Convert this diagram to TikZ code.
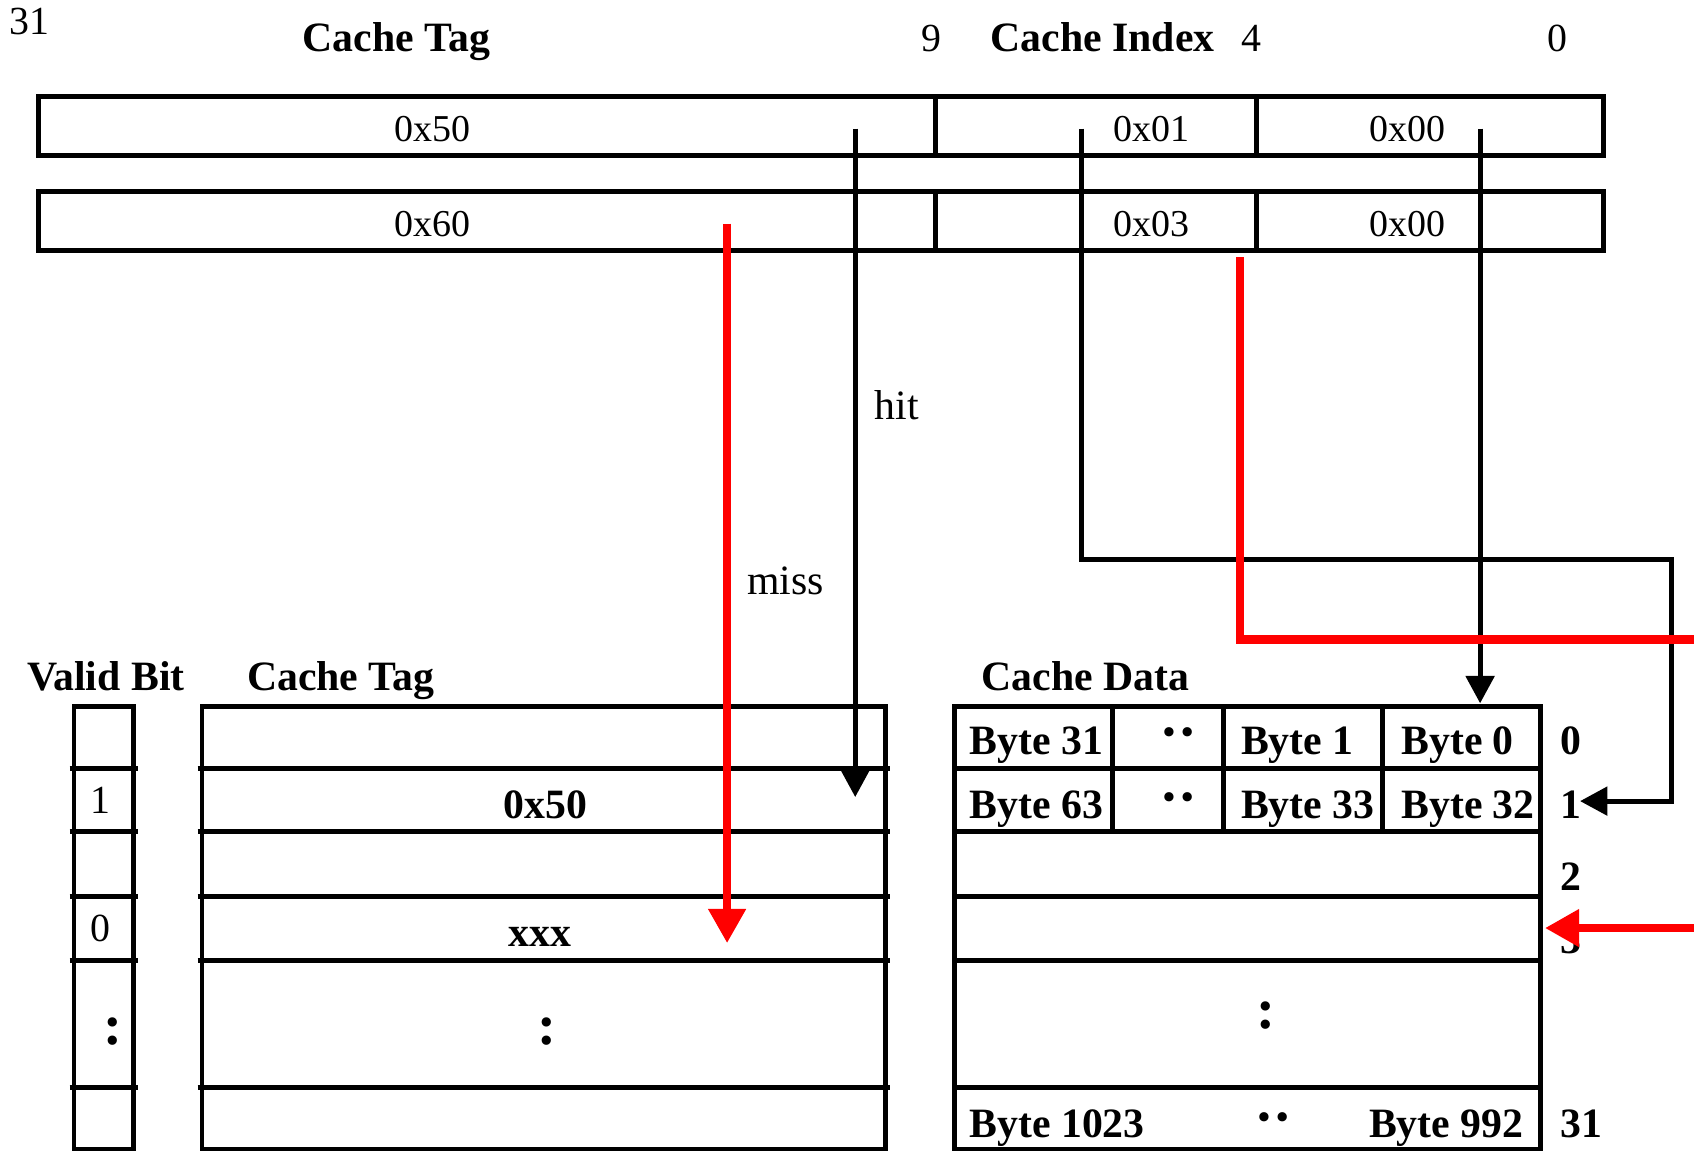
\documentclass[tikz,border=0pt]{standalone}
\usepackage{fontspec}
\setmainfont{Liberation Serif}
\usetikzlibrary{arrows.meta,positioning,calc}
\tikzset{>={Triangle[width=7.4pt,length=7.2pt]}}
\tikzset{
  grid/.style={line width=1.3pt},
  wire/.style={line width=1.3pt,->},
  redwire/.style={line width=2.2pt,red,-{Triangle[width=9.4pt,length=9pt]}},
  title/.style={font=\fontsize{11}{13}\selectfont\bfseries, anchor=base},
  bitno/.style={font=\fontsize{10.5}{12}\selectfont, anchor=base},
  hexval/.style={font=\fontsize{10}{12}\selectfont, anchor=base},
  entry/.style={font=\fontsize{11}{13}\selectfont\bfseries, anchor=base west, inner sep=0pt},
  dots/.style={font=\fontsize{15}{17}\selectfont\bfseries},
}
\begin{document}
\begin{tikzpicture}
  \useasboundingbox (0,0) rectangle (15.68,-10.65);
  \clip (0,0) rectangle (15.68,-10.65);
  % address layout
  \node[bitno] (b31) at (0.275,-0.318) {31};
  \node[title] (addrtag) at (3.67,-0.478) {Cache Tag};
  \node[bitno] (b9) at (8.62,-0.478) {9};
  \node[title] (addrindex) at (10.206,-0.478) {Cache Index};
  \node[bitno] (b4) at (11.58,-0.478) {4};
  \node[bitno] (b0) at (14.42,-0.478) {0};
  % two addresses
  \draw[grid] (0.36,-0.895) rectangle (14.84,-1.435);
  \draw[grid] (8.66,-0.895) -- (8.66,-1.435) (11.63,-0.895) -- (11.63,-1.435);
  \draw[grid] (0.36,-1.775) rectangle (14.84,-2.315);
  \draw[grid] (8.66,-1.775) -- (8.66,-2.315) (11.63,-1.775) -- (11.63,-2.315);
  \node[hexval] (tagA) at (4.00,-1.31) {0x50};
  \node[hexval] (idxA) at (10.66,-1.31) {0x01};
  \node[hexval] (offA) at (13.03,-1.31) {0x00};
  \node[hexval] (tagB) at (4.00,-2.19) {0x60};
  \node[hexval] (idxB) at (10.66,-2.19) {0x03};
  \node[hexval] (offB) at (13.03,-2.19) {0x00};

  % cache arrays
  \node[title] (validtitle) at (0.98,-6.39) {Valid Bit};
  \node[title] (tagtitle) at (3.155,-6.39) {Cache Tag};
  \node[title] (datatitle) at (10.045,-6.39) {Cache Data};
  \draw[grid] (0.685,-6.54) rectangle (1.235,-10.635);
  \draw[grid] (1.87,-6.54) rectangle (8.20,-10.635);
  \draw[grid] (8.835,-6.54) rectangle (14.26,-10.635);
  \foreach \y in {7.11,7.70,8.295,8.89,10.07} {
    \draw[grid] (0.645,-\y) -- (1.275,-\y);
    \draw[grid] (1.83,-\y) -- (8.24,-\y);
    \draw[grid] (8.835,-\y) -- (14.26,-\y);
  }
  \foreach \x in {10.295,11.326,12.80}
    \draw[grid] (\x,-6.54) -- (\x,-7.70);

  \node[bitno] (v1) at (0.93,-7.527) {1};
  \node[bitno] (v3) at (0.93,-8.716) {0};
  \node[dots, anchor=base] (vdots) at (1.05,-9.67) {:};
  \node[title] (t1) at (5.05,-7.575) {0x50};
  \node[title] (t3) at (5.00,-8.765) {xxx};
  \node[dots, anchor=base] (tdots) at (5.06,-9.67) {:};

  \node[entry] (byte31) at (8.967,-6.98) {Byte 31};
  \node[dots, rotate=90] (d0) at (10.91,-6.78) {:};
  \node[entry] (byte1) at (11.48,-6.98) {Byte 1};
  \node[entry] (byte0) at (12.964,-6.98) {Byte 0};
  \node[entry] (byte63) at (8.967,-7.575) {Byte 63};
  \node[dots, rotate=90] (d1) at (10.91,-7.374) {:};
  \node[entry] (byte33) at (11.48,-7.575) {Byte 33};
  \node[entry] (byte32) at (12.964,-7.575) {Byte 32};
  \node[dots, anchor=base] (ddots) at (11.718,-9.516) {:};
  \node[entry] (byte1023) at (8.967,-10.526) {Byte 1023};
  \node[dots, rotate=90] (dlast) at (11.79,-10.336) {:};
  \node[entry, anchor=base east] (byte992) at (14.107,-10.526) {Byte 992};

  \node[entry] (r0) at (14.44,-6.98) {0};
  \node[entry] (r1) at (14.44,-7.575) {1};
  \node[entry] (r2) at (14.44,-8.24) {2};
  \node[entry] (r3) at (14.44,-8.83) {3};
  \node[entry] (r31) at (14.44,-10.526) {31};

  % lookups
  \coordinate (hitsrc) at (7.916,-1.19);
  \coordinate (hittip) at (7.916,-7.378);
  \coordinate (idxsrc) at (10.007,-1.19);
  \coordinate (idxturn) at (15.47,-5.183);
  \coordinate (idxtip) at (14.625,-7.415);
  \coordinate (offsrc) at (13.70,-1.19);
  \coordinate (offtip) at (13.70,-6.51);
  \coordinate (misssrc) at (6.73,-2.07);
  \coordinate (misstip) at (6.73,-8.73);
  \coordinate (redsrc) at (11.477,-2.38);
  \coordinate (redturn) at (16.2,-5.92);
  \coordinate (redtip) at (14.30,-8.59);

  \draw[wire] (hitsrc) -- (hittip);
  \node[font=\fontsize{11}{13}\selectfont] (hit) at (8.30,-3.75) {hit};
  \draw[wire] (idxsrc) |- (idxturn) |- (idxtip);
  \draw[wire] (offsrc) -- (offtip);
  \draw[redwire] (misssrc) -- (misstip);
  \node[font=\fontsize{11}{13}\selectfont] (miss) at (7.27,-5.38) {miss};
  \draw[redwire] (redsrc) |- (redturn) |- (redtip);
\end{tikzpicture}
\end{document}
